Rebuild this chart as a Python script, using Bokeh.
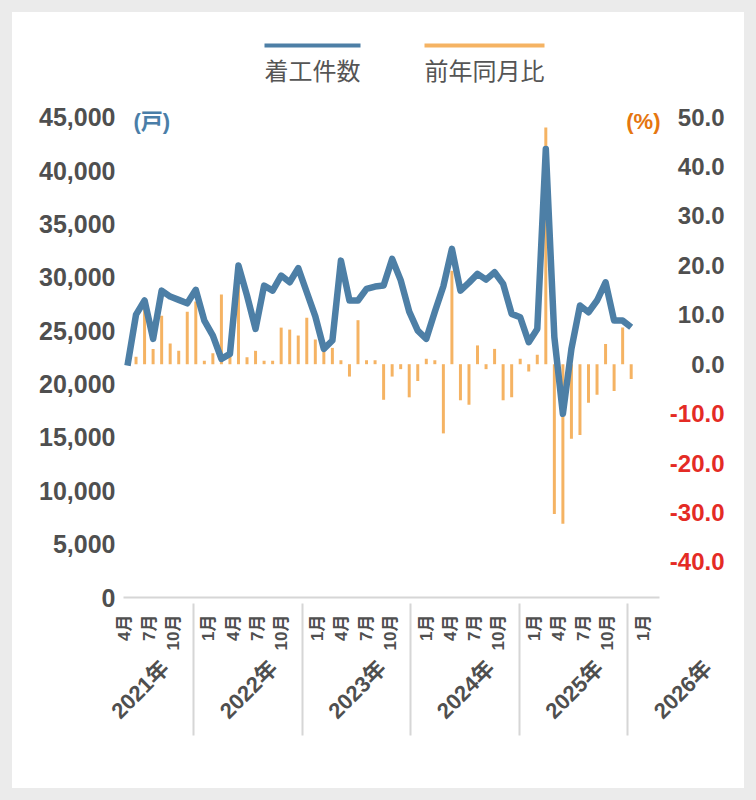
import math
from bokeh.plotting import figure
from bokeh.models import (Range1d, LinearAxis, FixedTicker, NumeralTickFormatter,
                          ColumnDataSource, LabelSet, Label)
from bokeh.embed import file_html
from bokeh.resources import INLINE
from bokeh.core.properties import value

# ---------------- data ----------------
START_YEAR, START_MONTH = 2021, 2          # first month shown: 2021年2月
N_MONTHS = 60                              # ... through 2026年1月

# housing starts (戸)
starts = [21740, 26520, 27840, 24250, 28770, 28210, 27900, 27580, 28840, 25960,
          24560, 22370, 22840, 31120, 28300, 25180, 29240, 28770, 30180, 29550,
          30880, 28620, 26350, 23310, 24090, 31580, 27840, 27840, 28930, 29150,
          29240, 31740, 29750, 26800, 25020, 24250, 26780, 29180, 32680, 28770,
          29520, 30340, 29800, 30490, 29400, 26590, 26270, 23930, 25180, 42050,
          24400, 17220, 23310, 27370, 26740, 27840, 29550, 25960, 25960, 25330]

# year-on-year change (%)
yoy = [0.5, 1.5, 12.0, 3.1, 9.8, 4.2, 2.7, 10.6, 12.7, 0.7,
       2.2, 14.1, 2.0, 15.9, 1.4, 2.7, 0.7, 0.7, 7.4, 7.0,
       5.8, 9.4, 5.0, 3.0, 3.3, 0.8, -2.5, 8.9, 0.8, 0.8,
       -7.2, -2.5, -1.0, -6.7, -3.4, 1.1, 0.8, -14.0, 18.9, -7.3,
       -8.2, 3.8, -1.0, 3.1, -7.3, -6.7, 1.1, -1.5, 1.9, 47.9,
       -30.3, -32.3, -15.1, -14.3, -7.8, -6.2, 4.1, -5.4, 7.4, -3.0]

LEFT_TICKS = [0, 5000, 10000, 15000, 20000, 25000, 30000, 35000, 40000, 45000]
RIGHT_TICKS = [50, 40, 30, 20, 10, 0, -10, -20, -30, -40]
LABELED_MONTHS = [1, 4, 7, 10]
YEARS = [2021, 2022, 2023, 2024, 2025, 2026]
SERIES_NAMES = ["着工件数", "前年同月比"]
LEFT_UNIT = "(戸)"
RIGHT_UNIT = "(%)"

# ---------------- style / layout ----------------
LINE_C = "#4d7fa6"
BAR_C = "#f5b363"
UNIT_BLUE = "#4a7ea8"
UNIT_ORANGE = "#e57610"
NEG_RED = "#e42b25"
TXT = "#4f4f4f"
LEG_TXT = "#555555"
SEP_C = "#d6d6d6"
FONT = "Liberation Sans, Noto Sans CJK JP"
CJK = "Noto Sans CJK JP"
GROUP_PAD = 1.4            # gap between year groups on the label axis (in months)

W, H = 732, 776            # figure size; page offset 12px
OFF = 12
FR_L, FR_R, FR_T, FR_B = 123, 736, 30, 597     # frame edges (page px)
AXIS_END = 659                                 # right end of the value area (page px)
X_FIRST, DX = 127.0, 8.537                     # page px of first month, px per month
Y_ZERO_L, DY_L = 597.0, 10.667 / 1000          # left axis: px of 0, px per unit
Y_ZERO_R, DY_R = 363.7, 4.943                  # right axis: px of 0, px per unit
CAL_A, CAL_B = 104.0, 8.1                      # label axis: px = A + B*coord
SEP_IN = 132                                   # separator reach (month + year label rows)

def xr(px):
    return (px - X_FIRST) / DX

def cal(px):
    return (px - CAL_A) / CAL_B

# calendar of the categories
periods = []
yy, mm = START_YEAR, START_MONTH
for _ in range(N_MONTHS):
    periods.append((yy, mm))
    mm += 1
    if mm > 12:
        mm, yy = 1, yy + 1
idx = list(range(N_MONTHS))

def cal_coord(i, year):
    return i + 0.5 + GROUP_PAD * (year - START_YEAR)

# ---------------- figure ----------------
p = figure(width=W, height=H, output_backend="svg", toolbar_location=None,
           x_range=Range1d(xr(FR_L), xr(FR_R)),
           y_range=Range1d((Y_ZERO_L - FR_B) / DY_L, (Y_ZERO_L - FR_T) / DY_L),
           x_axis_location=None, y_axis_location=None,
           min_border_left=FR_L - OFF, min_border_right=OFF + W - FR_R,
           min_border_top=FR_T - OFF, min_border_bottom=OFF + H - FR_B,
           outline_line_color=None, background_fill_color="white",
           border_fill_color="white", styles={"background-color": "white"})
p.grid.visible = False
p.extra_y_ranges = {"pct": Range1d((Y_ZERO_R - FR_B) / DY_R, (Y_ZERO_R - FR_T) / DY_R),
                    "py": Range1d(FR_B, FR_T)}
p.extra_x_ranges = {"cal": Range1d(cal(FR_L), cal(FR_R)),
                    "px": Range1d(FR_L, FR_R)}

src = ColumnDataSource(dict(i=idx, starts=starts, yoy=yoy))
p.vbar(x="i", top="yoy", bottom=0, width=0.35, y_range_name="pct", source=src,
       fill_color=BAR_C, line_color=None)
p.line(x="i", y="starts", source=src, line_color=LINE_C, line_width=6.5,
       line_join="round")

# left axis
ax_l = LinearAxis(ticker=FixedTicker(ticks=LEFT_TICKS),
                  formatter=NumeralTickFormatter(format="0,0"),
                  axis_line_color=None, major_tick_line_color=None,
                  minor_tick_line_color=None, major_tick_in=0, major_tick_out=0,
                  major_label_standoff=8, major_label_text_font=FONT,
                  major_label_text_font_size="25px", major_label_text_font_style="bold",
                  major_label_text_color=TXT)
p.add_layout(ax_l, "left")

# month axis (below) – its line is the base line of the chart
m_ticks, m_over = [], {}
for i, (y_, m_) in enumerate(periods):
    if m_ in LABELED_MONTHS:
        c = cal_coord(i, y_)
        m_ticks.append(c)
        m_over[c] = f"{m_}月"
ax_m = LinearAxis(x_range_name="cal", ticker=FixedTicker(ticks=m_ticks),
                  bounds=(cal(FR_L), cal(AXIS_END)),
                  major_label_overrides=m_over, major_label_orientation=math.pi / 2,
                  axis_line_color=SEP_C, axis_line_width=2,
                  major_tick_line_color=None, minor_tick_line_color=None,
                  major_tick_in=0, major_tick_out=0, major_label_standoff=17,
                  major_label_text_font=FONT, major_label_text_font_size="17px",
                  major_label_text_font_style="bold", major_label_text_color=TXT)
p.add_layout(ax_m, "below")

# year labels (below)
yr_ticks, yr_over = [], {}
for y_ in YEARS:
    i_sep = (y_ - START_YEAR) * 12 + (9 - START_MONTH)
    c = cal_coord(i_sep, y_)
    yr_ticks.append(c)
    yr_over[c] = f"{y_}年"
ax_y = LinearAxis(x_range_name="cal", ticker=FixedTicker(ticks=yr_ticks),
                  major_label_overrides=yr_over, major_label_orientation=math.pi / 4,
                  axis_line_color=None, major_tick_line_color=None,
                  minor_tick_line_color=None, major_tick_in=0, major_tick_out=0,
                  major_label_standoff=11, major_label_text_font=FONT,
                  major_label_text_font_size="22px", major_label_text_font_style="bold",
                  major_label_text_color=TXT)
p.add_layout(ax_y, "below")

# year separators: ticks of a label-less axis under the year row, reaching up
sep_ticks = [i + 1 + GROUP_PAD * (y_ - START_YEAR)
             for i, (y_, m_) in enumerate(periods) if m_ == 12]
ax_s = LinearAxis(x_range_name="cal", ticker=FixedTicker(ticks=sep_ticks),
                  major_label_text_color=None, major_label_standoff=0,
                  axis_line_color=None, minor_tick_line_color=None,
                  major_tick_line_color=SEP_C, major_tick_line_width=2,
                  major_tick_in=SEP_IN, major_tick_out=0)
p.add_layout(ax_s, "below")

# right-hand (%) labels
r_src = ColumnDataSource(dict(x=[724] * len(RIGHT_TICKS), y=RIGHT_TICKS,
                              text=[f"{v:.1f}" for v in RIGHT_TICKS],
                              color=[NEG_RED if v < 0 else TXT for v in RIGHT_TICKS]))
p.add_layout(LabelSet(source=r_src, x="x", y="y", text="text",
                      x_range_name="px", y_range_name="pct",
                      text_align="right", text_baseline="middle",
                      text_font=value(FONT), text_font_size="24px",
                      text_font_style="bold", text_color="color"))

# unit labels
p.add_layout(Label(x=133, y=121, x_range_name="px", y_range_name="py",
                   text=LEFT_UNIT, text_align="left", text_baseline="middle",
                   text_font=FONT, text_font_size="22px", text_font_style="bold",
                   text_color=UNIT_BLUE))
p.add_layout(Label(x=660, y=121, x_range_name="px", y_range_name="py",
                   text=RIGHT_UNIT, text_align="right", text_baseline="middle",
                   text_font=FONT, text_font_size="22px", text_font_style="bold",
                   text_color=UNIT_ORANGE))

# legend (line above each label)
LEG_FS = 24
leg_x0 = [264, 424]
leg_x1 = [x0 + len(t) * LEG_FS for x0, t in zip(leg_x0, SERIES_NAMES)]
leg_src = ColumnDataSource(dict(x0=leg_x0, x1=leg_x1, t=SERIES_NAMES,
                                c=[LINE_C, BAR_C]))
p.segment(x0="x0", y0=45, x1="x1", y1=45, line_color="c", line_width=4,
          source=leg_src, x_range_name="px", y_range_name="py")
p.text(x="x0", y=69, text="t", source=leg_src, x_range_name="px", y_range_name="py",
       text_font=value(CJK), text_font_size=f"{LEG_FS}px", text_baseline="middle",
       text_color=LEG_TXT)

html = file_html(p, INLINE)
css = "<style>html,body{background-color:#ebebeb !important;} body{margin:12px !important;}</style>"
if "</head>" in html:
    html = html.replace("</head>", css + "</head>", 1)
else:
    html = css + html
open("out.html", "w").write(html)
